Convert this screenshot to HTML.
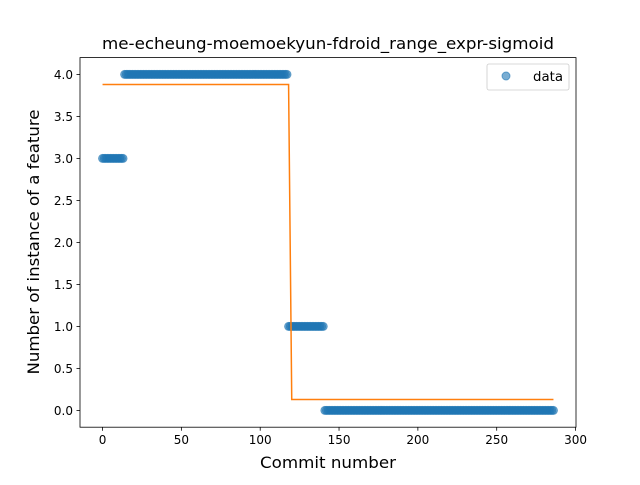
<!DOCTYPE html>
<html><head><meta charset="utf-8"><style>
body{margin:0;background:#fff;}
svg text{font-family:"DejaVu Sans","Liberation Sans",sans-serif;fill:#000;}
</style></head><body>
<svg id="chart" width="640" height="480" viewBox="0 0 640 480" xmlns="http://www.w3.org/2000/svg">
<rect width="640" height="480" fill="#fff"/>
<text x="328" y="49" font-size="16" text-anchor="middle" textLength="452" lengthAdjust="spacingAndGlyphs">me-echeung-moemoekyun-fdroid_range_expr-sigmoid</text>
<g id="marks"></g>
<rect x="80" y="57.6" width="496" height="369.6" fill="none" stroke="#000" stroke-width="0.8"/>
<g id="axes"></g>
<text x="328" y="468" font-size="16" text-anchor="middle" textLength="136" lengthAdjust="spacingAndGlyphs">Commit number</text>
<text transform="translate(39,242) rotate(-90)" font-size="16" text-anchor="middle" textLength="265" lengthAdjust="spacingAndGlyphs">Number of instance of a feature</text>
<g>
<rect x="487" y="64" width="82" height="26" rx="2" fill="#fff" stroke="#ccc" stroke-width="0.8"/>
<circle cx="506" cy="76" r="4" fill="#1f77b4" fill-opacity="0.6" stroke="#1f77b4" stroke-opacity="0.6"/>
<text x="533" y="81" font-size="13" textLength="30" lengthAdjust="spacingAndGlyphs">data</text>
</g>
</svg>
<script>
// run-length data: [startCommit, endCommit, value]
const runStarts = [0, 14, 118, 141];
const runEnds = [13, 117, 140, 286];
const runValues = [3, 4, 1, 0];
const fitX = [0, 118, 120, 286];
const fitY = [3.88, 3.88, 0.13, 0.13];
const xTicks = [0, 50, 100, 150, 200, 250, 300];
const yTicks = [0.0, 0.5, 1.0, 1.5, 2.0, 2.5, 3.0, 3.5, 4.0];

const X0=80, X1=576, Y0=427.2, Y1=57.6;
const xmin=-14.3, xmax=300.3, ymin=-0.2, ymax=4.2;
const sx = v => X0 + (v - xmin) / (xmax - xmin) * (X1 - X0);
const sy = v => Y0 - (v - ymin) / (ymax - ymin) * (Y0 - Y1);
const NS = "http://www.w3.org/2000/svg";
const marks = document.getElementById('marks');
const axes = document.getElementById('axes');
function mk(tag, attrs, parent){const e=document.createElementNS(NS,tag);for(const k in attrs)e.setAttribute(k,attrs[k]);parent.appendChild(e);return e;}

for (let r = 0; r < runStarts.length; r++) {
  for (let c = runStarts[r]; c <= runEnds[r]; c++) {
    const p = mk('circle',{cx:sx(c),cy:sy(runValues[r]),r:4,fill:'#1f77b4','fill-opacity':0.6,stroke:'#1f77b4','stroke-opacity':0.6},marks);
    
    
  }
}
const line = mk('polyline',{points:fitX.map((x,i)=>sx(x)+','+sy(fitY[i])).join(' '),fill:'none',stroke:'#ff7f0e','stroke-width':1.5},marks);



xTicks.forEach(t=>{
  const x=sx(t);
  const l=mk('line',{x1:x,x2:x,y1:Y0,y2:Y0+3.5,stroke:'#000','stroke-width':0.8},axes);
  
  
  const tx=mk('text',{x:x,y:Y0+17,'font-size':12,'text-anchor':'middle'},axes);
  tx.textContent=t;
  
  
});
yTicks.forEach(t=>{
  const y=sy(t);
  const l=mk('line',{x1:X0-3.5,x2:X0,y1:y,y2:y,stroke:'#000','stroke-width':0.8},axes);
  
  
  const tx=mk('text',{x:X0-7,y:y+4.5,'font-size':12,'text-anchor':'end'},axes);
  tx.textContent=t.toFixed(1);
  
  
});
</script>
</body></html>
